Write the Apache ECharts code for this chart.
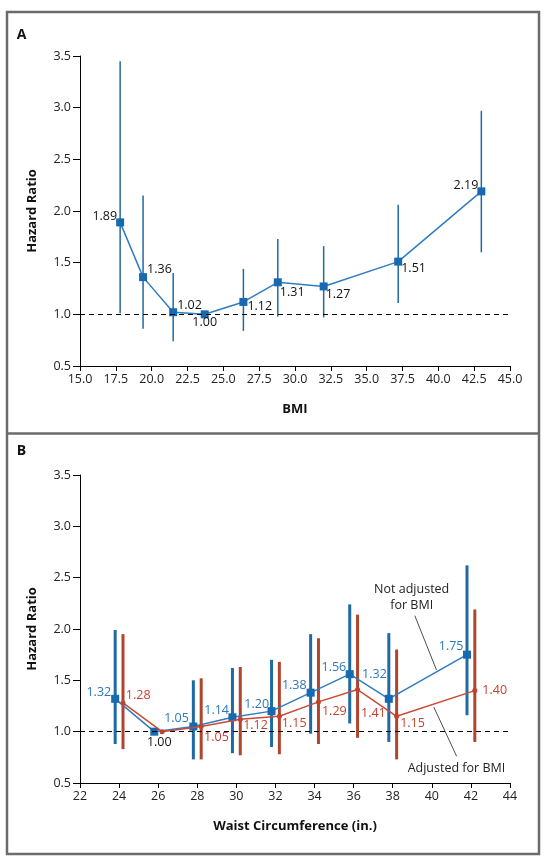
<!DOCTYPE html>
<html>
<head>
<meta charset="utf-8">
<script src="https://cdn.jsdelivr.net/npm/echarts@6/dist/echarts.min.js"></script>
<style>
html,body{margin:0;padding:0;background:#fff;}
#chart{width:544px;height:860px;}
</style>
</head>
<body>
<div id="chart"></div>
<script>
// ---- Panel A data (BMI) ----
var bmiX    = [17.8, 19.4, 21.5, 23.7, 26.4, 28.8, 32.0, 37.2, 43.0];
var bmiHR   = [1.89, 1.36, 1.02, 1.00, 1.12, 1.31, 1.27, 1.51, 2.19];
var bmiLow  = [1.01, 0.86, 0.74, null, 0.84, 0.98, 0.97, 1.11, 1.60];
var bmiHigh = [3.45, 2.15, 1.40, null, 1.44, 1.73, 1.66, 2.06, 2.97];

// ---- Panel B data (waist circumference) ----
var waistBlueX = [23.8, 25.8, 27.8, 29.8, 31.8, 33.8, 35.8, 37.8, 41.8];
var blueHR     = [1.32, 1.00, 1.05, 1.14, 1.20, 1.38, 1.56, 1.32, 1.75];
var blueLow    = [0.88, null, 0.73, 0.79, 0.85, 0.98, 1.08, 0.90, 1.16];
var blueHigh   = [1.99, null, 1.50, 1.62, 1.70, 1.95, 2.24, 1.96, 2.62];

var waistRedX  = [24.2, 26.2, 28.2, 30.2, 32.2, 34.2, 36.2, 38.2, 42.2];
var redHR      = [1.28, 1.00, 1.05, 1.12, 1.15, 1.29, 1.41, 1.15, 1.40];
var redLow     = [0.83, null, 0.73, 0.77, 0.78, 0.88, 0.94, 0.73, 0.90];
var redHigh    = [1.95, null, 1.52, 1.63, 1.68, 1.91, 2.14, 1.80, 2.19];

// axis ticks
var bmiTicks   = {min: 15, max: 45, interval: 2.5};
var waistTicks = {min: 22, max: 44, interval: 2};
var hrTicks    = {min: 0.5, max: 3.5, interval: 0.5};

// ---- label placement (style) ----
var bmiLabelPlace = [['left',[3,-6]],['right',[-2,-8]],['right',[-2,-7]],['bottom',[0,-4]],['right',[-2,5]],['right',[-4,10]],['right',[-4,8]],['right',[-3,7]],['left',[3,-6]]];
var blueLabelPlace = [['left',[2,-6]],['bottom',[5,-2]],['left',[1.5,-8]],['left',[2.5,-7]],['left',[3.5,-7]],['left',[2,-7]],['left',[2.5,-7]],['left',[4,-24]],['left',[2.5,-8]]];
var redLabelPlace = [['right',[-1.7,-7]],null,['right',[-1.6,11]],['right',[-1.6,6]],['right',[-2,7]],['right',[-1,10]],['right',[-1,24]],['right',[-1,7]],['right',[3,0]]];

var FONT = '"Open Sans", "DejaVu Sans", sans-serif';
var BLUE = '#1769b0', BLUE_LINE = '#2f7cc2', BLUE_CI = '#1f6aa5', BLUE_TXT = '#2a78be';
var RED = '#c2412c', RED_LINE = '#cc4a35', RED_CI = '#b0442c', RED_TXT = '#c8402c';

function pts(xs, ys, places, color) {
  return xs.map(function (x, i) {
    var p = places[i];
    var item = {value: [x, ys[i]]};
    if (p) {
      item.label = {show: true, position: p[0], offset: p[1], distance: 2,
        formatter: ys[i].toFixed(2), color: color, fontSize: 12.5, fontFamily: FONT};
    } else {
      item.label = {show: false};
    }
    return item;
  });
}

function ciData(xs, lo, hi) {
  var out = [];
  xs.forEach(function (x, i) { if (lo[i] != null) out.push([x, lo[i], hi[i]]); });
  return out;
}

function ciSeries(xi, yi, data, color, width, z) {
  return {
    type: 'custom', xAxisIndex: xi, yAxisIndex: yi, z: z, silent: true,
    data: data,
    renderItem: function (params, api) {
      var a = api.coord([api.value(0), api.value(1)]);
      var b = api.coord([api.value(0), api.value(2)]);
      return {type: 'line', shape: {x1: a[0], y1: a[1], x2: b[0], y2: b[1]},
        style: {stroke: color, lineWidth: width}};
    },
    encode: {x: 0, y: [1, 2]}
  };
}

function xAxisCfg(gi, t, name, dec) {
  return {
    type: 'value', gridIndex: gi, min: t.min, max: t.max, interval: t.interval,
    name: name, nameLocation: 'middle', nameGap: 37,
    nameTextStyle: {fontFamily: FONT, fontWeight: 'bold', fontSize: 13, color: '#111'},
    axisLine: {lineStyle: {color: '#000', width: 1}},
    axisTick: {show: true, length: 5, lineStyle: {color: '#000'}},
    axisLabel: {fontFamily: FONT, fontSize: 12.5, color: '#222', margin: 7,
      formatter: function (v) { return dec ? v.toFixed(1) : String(v); }},
    splitLine: {show: false}
  };
}
function yAxisCfg(gi) {
  return {
    type: 'value', gridIndex: gi, min: hrTicks.min, max: hrTicks.max, interval: hrTicks.interval,
    name: 'Hazard Ratio', nameLocation: 'middle', nameRotate: 90, nameGap: 41,
    nameTextStyle: {fontFamily: FONT, fontWeight: 'bold', fontSize: 13, color: '#111'},
    axisLine: {show: true, lineStyle: {color: '#000', width: 1}},
    axisTick: {show: true, length: 7, lineStyle: {color: '#000'}},
    axisLabel: {fontFamily: FONT, fontSize: 12.5, color: '#222', margin: 9,
      formatter: function (v) { return v.toFixed(1); }},
    splitLine: {show: false}
  };
}

var refLine = {
  silent: true, symbol: ['none', 'none'], label: {show: false},
  lineStyle: {type: [5, 4], color: '#000', width: 1},
  data: [{yAxis: 1}]
};

var chart = echarts.init(document.getElementById('chart'), null, {renderer: 'canvas'});
var option = {
  animation: false,
  backgroundColor: '#fff',
  grid: [
    {left: 80, top: 56, width: 430, height: 310},
    {left: 80, top: 475, width: 430, height: 308}
  ],
  xAxis: [xAxisCfg(0, bmiTicks, 'BMI', true), xAxisCfg(1, waistTicks, 'Waist Circumference (in.)', false)],
  yAxis: [yAxisCfg(0), yAxisCfg(1)],
  series: [
    ciSeries(0, 0, ciData(bmiX, bmiLow, bmiHigh), BLUE_CI, 1.5, 2),
    {
      type: 'line', xAxisIndex: 0, yAxisIndex: 0, z: 3,
      data: pts(bmiX, bmiHR, bmiLabelPlace, '#111'),
      symbol: 'rect', symbolSize: 8, itemStyle: {color: BLUE},
      lineStyle: {color: BLUE_LINE, width: 1.5},
      markLine: refLine
    },
    ciSeries(1, 1, ciData(waistBlueX, blueLow, blueHigh), BLUE_CI, 3, 2),
    ciSeries(1, 1, ciData(waistRedX, redLow, redHigh), RED_CI, 3, 2),
    {
      type: 'line', xAxisIndex: 1, yAxisIndex: 1, z: 4,
      data: pts(waistBlueX, blueHR, blueLabelPlace, BLUE_TXT),
      symbol: 'rect', symbolSize: 8, itemStyle: {color: BLUE},
      lineStyle: {color: BLUE_LINE, width: 1.5},
      markLine: refLine
    },
    {
      type: 'line', xAxisIndex: 1, yAxisIndex: 1, z: 5,
      data: pts(waistRedX, redHR, redLabelPlace, RED_TXT),
      symbol: 'circle', symbolSize: 5, itemStyle: {color: RED},
      lineStyle: {color: RED_LINE, width: 1.5},
      markLine: {
        silent: true, symbol: ['none', 'none'], label: {show: false},
        lineStyle: {type: 'solid', color: '#222', width: 0.8},
        data: [
          [{coord: [39.13, 2.13]}, {coord: [40.24, 1.60]}],
          [{coord: [40.10, 1.24]}, {coord: [41.27, 0.76]}]
        ]
      }
    }
  ]
};
// 1.00 label in panel B is black
option.series[4].data[1].label.color = '#111';
chart.setOption(option);

// annotations & frame
function px(gi, x, y) { return chart.convertToPixel({gridIndex: gi}, [x, y]); }
var pNot1 = px(1, 38.97, 2.39), pNot2 = px(1, 38.97, 2.23), pAdj = px(1, 41.26, 0.64);
var txtStyle = {fontFamily: FONT, fontSize: 12.5, fill: '#222', textAlign: 'center', textVerticalAlign: 'middle'};
chart.setOption({
  graphic: [
    {type: 'rect', shape: {x: 7, y: 12, width: 532, height: 842}, style: {fill: 'none', stroke: '#6b6b6b', lineWidth: 2.5}, z: 100},
    {type: 'line', shape: {x1: 7, y1: 433.5, x2: 539, y2: 433.5}, style: {stroke: '#6b6b6b', lineWidth: 2.5}, z: 100},
    {type: 'text', x: 21.5, y: 35, style: {text: 'A', fontFamily: FONT, fontWeight: 'bold', fontSize: 14, fill: '#111', textAlign: 'center', textVerticalAlign: 'middle'}},
    {type: 'text', x: 21.5, y: 451, style: {text: 'B', fontFamily: FONT, fontWeight: 'bold', fontSize: 14, fill: '#111', textAlign: 'center', textVerticalAlign: 'middle'}},
    {type: 'text', x: pNot1[0], y: pNot1[1], style: Object.assign({text: 'Not adjusted'}, txtStyle)},
    {type: 'text', x: pNot2[0], y: pNot2[1], style: Object.assign({text: 'for BMI'}, txtStyle)},
    {type: 'text', x: pAdj[0], y: pAdj[1], style: Object.assign({text: 'Adjusted for BMI'}, txtStyle)}
  ]
});
</script>
</body>
</html>
